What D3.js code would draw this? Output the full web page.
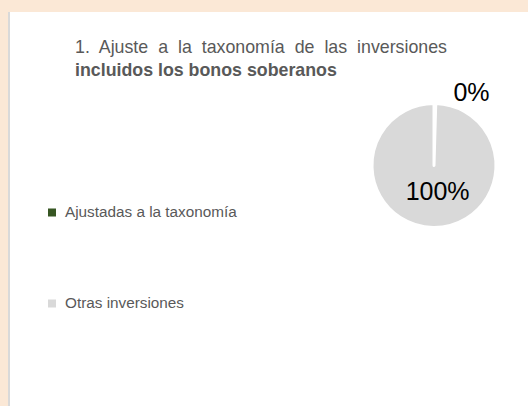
<!DOCTYPE html>
<html>
<head>
<meta charset="utf-8">
<script src="https://cdn.jsdelivr.net/npm/d3@7"></script>
<style>
  html, body { margin: 0; padding: 0; background: #fbe8d6; }
  svg { display: block; font-family: "Liberation Sans", Arial, sans-serif; }
</style>
</head>
<body>
<svg width="528" height="406"></svg>
<script>
// data
let categories = ["Ajustadas a la taxonomía", "Otras inversiones"];
let values = [0.45, 99.55];
let valueLabels = ["0%", "100%"];
let colors = ["#375623", "#d9d9d9"];
let titleLine1 = "1. Ajuste a la taxonomía de las inversiones";
let titleLine2 = "incluidos los bonos soberanos";

let svg = d3.select("svg");

// white panel with grey left edge
svg.append("rect")
    .attr("x", 8).attr("y", 12)
    .attr("width", 530).attr("height", 400)
    .attr("fill", "#d9d9d9");
svg.append("rect")
    .attr("x", 10).attr("y", 12)
    .attr("width", 530).attr("height", 400)
    .attr("fill", "#ffffff");

// title, first line justified
let t1 = svg.append("text")
    .attr("x", 75).attr("y", 53)
    .style("font-size", "17.8px")
    .style("fill", "#595959")
    .text(titleLine1);
let w1 = t1.node().getComputedTextLength();
let gaps = titleLine1.split(" ").length - 1;
t1.style("word-spacing", ((372 - w1) / gaps) + "px");

svg.append("text")
    .attr("x", 75).attr("y", 75.5)
    .style("font-size", "17.8px")
    .style("font-weight", "bold")
    .style("fill", "#595959")
    .text(titleLine2);

// pie
let cx = 434, cy = 165.5, r = 62;
let pie = d3.pie().sort(null).value(function(d) { return d; });
let arc = d3.arc().innerRadius(0).outerRadius(r);
let arcs = pie(values);

let g = svg.append("g")
    .attr("transform", "translate(" + cx + "," + cy + ")");

g.selectAll("path")
    .data(arcs)
    .enter()
    .append("path")
    .attr("d", arc)
    .attr("fill", function(d, i) { return colors[i]; })
    .attr("stroke", "#ffffff")
    .attr("stroke-width", 3)
    .attr("stroke-linejoin", "round");

// labels: big slice inside, tiny slice outside at upper right
let innerLabel = d3.arc().innerRadius(r * 0.42).outerRadius(r * 0.42);
g.selectAll("text.lbl")
    .data(arcs)
    .enter()
    .append("text")
    .attr("class", "lbl")
    .attr("transform", function(d, i) {
        if (i === 0) {
            let a = (d.startAngle + d.endAngle) / 2 + 0.46;
            return "translate(" + (Math.sin(a) * 82) + "," + (-Math.cos(a) * 82) + ")";
        }
        let c = innerLabel.centroid(d);
        return "translate(" + (c[0] + 4) + "," + c[1] + ")";
    })
    .attr("dy", "0.35em")
    .style("text-anchor", "middle")
    .style("font-size", "25px")
    .style("fill", "#000000")
    .text(function(d, i) { return valueLabels[i]; });

// legend
let legendY = d3.scalePoint().domain(categories).range([212, 303]);
let legend = svg.selectAll("g.legend")
    .data(categories)
    .enter()
    .append("g")
    .attr("class", "legend")
    .attr("transform", function(d) { return "translate(48," + legendY(d) + ")"; });

legend.append("rect")
    .attr("x", 0).attr("y", -3.5)
    .attr("width", 8).attr("height", 8)
    .attr("fill", function(d, i) { return colors[i]; });

legend.append("text")
    .attr("x", 17).attr("y", 0)
    .attr("dy", "0.35em")
    .style("font-size", "15.3px")
    .style("fill", "#595959")
    .text(function(d) { return d; });
</script>
</body>
</html>
